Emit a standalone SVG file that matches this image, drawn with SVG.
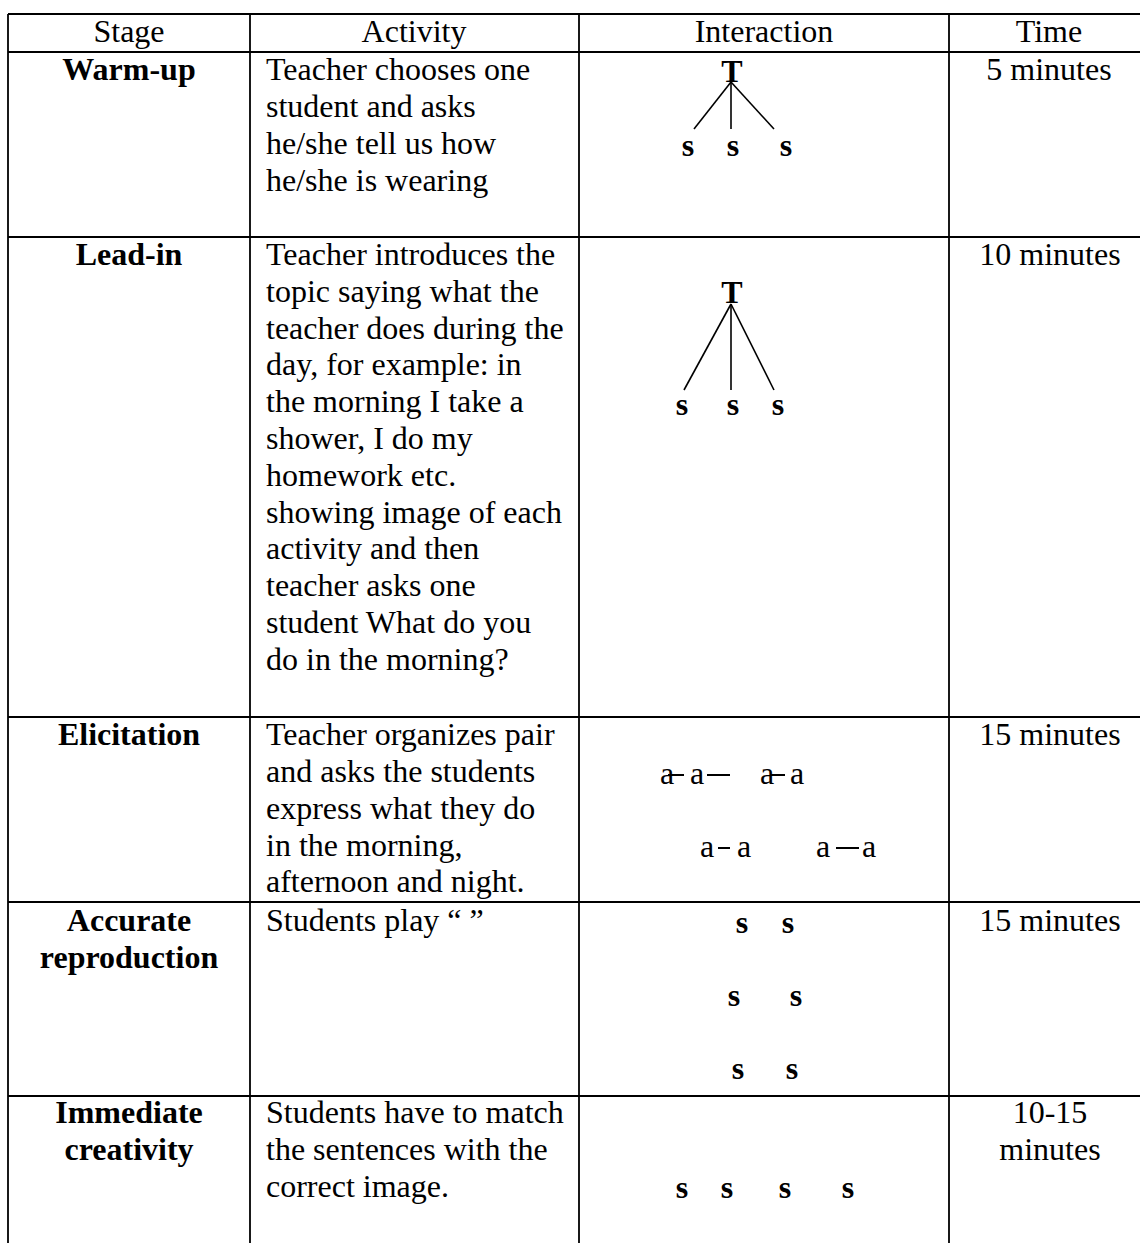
<svg xmlns="http://www.w3.org/2000/svg" width="1140" height="1243" viewBox="0 0 1140 1243">
<style>
  text { font-family: "Liberation Serif", "Times New Roman", serif; font-size: 32px; fill: #000; }
  .b { font-weight: bold; }
  .c { text-anchor: middle; }
  .grid line { stroke: #000; stroke-width: 1.8; }
  .conn line { stroke: #000; stroke-width: 1.6; }
  .dash line { stroke: #000; stroke-width: 2; }
</style>
<rect x="0" y="0" width="1140" height="1243" fill="#fff"/>

<g id="grid" class="grid">
  <line x1="8" y1="14" x2="1150" y2="14"/>
  <line x1="8" y1="52" x2="1150" y2="52"/>
  <line x1="8" y1="237" x2="1150" y2="237"/>
  <line x1="8" y1="717" x2="1150" y2="717"/>
  <line x1="8" y1="902" x2="1150" y2="902"/>
  <line x1="8" y1="1096" x2="1150" y2="1096"/>
  <line x1="8" y1="14" x2="8" y2="1243"/>
  <line x1="250" y1="14" x2="250" y2="1243"/>
  <line x1="579" y1="14" x2="579" y2="1243"/>
  <line x1="949" y1="14" x2="949" y2="1243"/>
</g>

<g id="header">
  <text class="c" x="129" y="42">Stage</text>
  <text class="c" x="414" y="42">Activity</text>
  <text class="c" x="764" y="42">Interaction</text>
  <text class="c" x="1049" y="42">Time</text>
</g>

<g id="row-warmup">
  <text class="b c" x="129" y="80">Warm-up</text>
  <text x="266" y="80">Teacher chooses one</text>
  <text x="266" y="117">student and asks</text>
  <text x="266" y="154">he/she tell us how</text>
  <text x="266" y="191">he/she is wearing</text>
  <text class="c" x="1049" y="80">5 minutes</text>
</g>
<g id="warmup-interaction">
  <text class="b c" x="732" y="82">T</text>
  <text class="b c" x="688" y="156">s</text>
  <text class="b c" x="733" y="156">s</text>
  <text class="b c" x="786" y="156">s</text>
</g>

<g id="row-leadin">
  <text class="b c" x="129" y="265">Lead-in</text>
  <text x="266" y="265">Teacher introduces the</text>
  <text x="266" y="302">topic saying what the</text>
  <text x="266" y="339">teacher does during the</text>
  <text x="266" y="375">day, for example: in</text>
  <text x="266" y="412">the morning I take a</text>
  <text x="266" y="449">shower, I do my</text>
  <text x="266" y="486">homework etc.</text>
  <text x="266" y="523">showing image of each</text>
  <text x="266" y="559">activity and then</text>
  <text x="266" y="596">teacher asks one</text>
  <text x="266" y="633">student What do you</text>
  <text x="266" y="670">do in the morning?</text>
  <text class="c" x="1050" y="265">10 minutes</text>
</g>
<g id="leadin-interaction">
  <text class="b c" x="732" y="303">T</text>
  <text class="b c" x="682" y="415">s</text>
  <text class="b c" x="733" y="415">s</text>
  <text class="b c" x="778" y="415">s</text>
</g>

<g id="row-elicitation">
  <text class="b c" x="129" y="745">Elicitation</text>
  <text x="266" y="745">Teacher organizes pair</text>
  <text x="266" y="782">and asks the students</text>
  <text x="266" y="819">express what they do</text>
  <text x="266" y="856">in the morning,</text>
  <text x="266" y="892">afternoon and night.</text>
  <text class="c" x="1050" y="745">15 minutes</text>
</g>
<g id="elicitation-interaction">
  <text x="660" y="784">a</text>
  <text x="690" y="784">a</text>
  <text x="760" y="784">a</text>
  <text x="790" y="784">a</text>
  <text x="700" y="857">a</text>
  <text x="737" y="857">a</text>
  <text x="816" y="857">a</text>
  <text x="862" y="857">a</text>
</g>

<g id="row-accurate">
  <text class="b c" x="129" y="931">Accurate</text>
  <text class="b c" x="129" y="968">reproduction</text>
  <text x="266" y="931">Students play “ ”</text>
  <text class="c" x="1050" y="931">15 minutes</text>
</g>
<g id="accurate-interaction">
  <text class="b c" x="742" y="933">s</text>
  <text class="b c" x="788" y="933">s</text>
  <text class="b c" x="734" y="1006">s</text>
  <text class="b c" x="796" y="1006">s</text>
  <text class="b c" x="738" y="1079">s</text>
  <text class="b c" x="792" y="1079">s</text>
</g>

<g id="row-immediate">
  <text class="b c" x="129" y="1123">Immediate</text>
  <text class="b c" x="129" y="1160">creativity</text>
  <text x="266" y="1123">Students have to match</text>
  <text x="266" y="1160">the sentences with the</text>
  <text x="266" y="1197">correct image.</text>
  <text class="c" x="1050" y="1123">10-15</text>
  <text class="c" x="1050" y="1160">minutes</text>
</g>
<g id="immediate-interaction">
  <text class="b c" x="682" y="1198">s</text>
  <text class="b c" x="727" y="1198">s</text>
  <text class="b c" x="785" y="1198">s</text>
  <text class="b c" x="848" y="1198">s</text>
</g>

<g id="connectors">
  <g class="conn">
    <line x1="731" y1="82" x2="694" y2="129"/>
    <line x1="731" y1="82" x2="731" y2="129"/>
    <line x1="731" y1="82" x2="774" y2="129"/>
    <line x1="731" y1="304" x2="684" y2="390"/>
    <line x1="731" y1="304" x2="731" y2="390"/>
    <line x1="731" y1="304" x2="774" y2="390"/>
  </g>
  <g class="dash">
    <line x1="668" y1="775" x2="684" y2="775"/>
    <line x1="707" y1="775" x2="730" y2="775"/>
    <line x1="770" y1="775" x2="785" y2="775"/>
    <line x1="718" y1="848" x2="730" y2="848"/>
    <line x1="836" y1="848" x2="859" y2="848"/>
  </g>
</g>
</svg>
